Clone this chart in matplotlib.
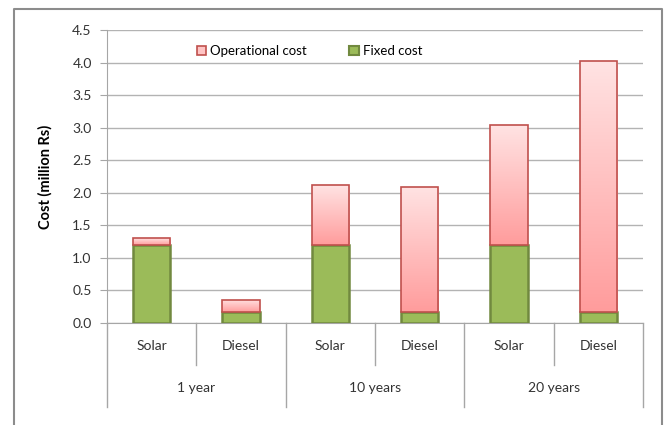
import matplotlib
matplotlib.use("Agg")
import matplotlib.pyplot as plt
import numpy as np
from matplotlib.colors import LinearSegmentedColormap
from matplotlib.patches import Rectangle
from matplotlib.lines import Line2D

plt.rcParams["font.family"] = ["Lato", "DejaVu Sans"]

# cost breakdown per scenario, million Rs
systems = ["Solar", "Diesel", "Solar", "Diesel", "Solar", "Diesel"]
periods = ["1 year", "10 years", "20 years"]
fixed_cost = [1.20, 0.17, 1.20, 0.17, 1.20, 0.17]
operational_cost = [0.10, 0.19, 0.92, 1.92, 1.84, 3.85]
y_ticks = [0.0, 0.5, 1.0, 1.5, 2.0, 2.5, 3.0, 3.5, 4.0, 4.5]

GREEN = "#9BBB59"
GREEN_EDGE = "#71893F"
RED_EDGE = "#C0504D"
GRID = "#B3B3B3"
AXIS = "#A6A6A6"

fig = plt.figure(figsize=(6.67, 4.25), dpi=100)
ax = fig.add_axes([107 / 667, 102 / 425, 536 / 667, 293 / 425])

x = np.arange(len(systems))
width = 0.42

fixed_bars = ax.bar(x, fixed_cost, width, color=GREEN, edgecolor=GREEN_EDGE,
                    linewidth=1.8, zorder=3)
op_bars = ax.bar(x, operational_cost, width, bottom=fixed_cost,
                 facecolor="none", edgecolor=RED_EDGE, linewidth=1.2, zorder=4)

# pink vertical gradient inside each operational segment
grad_cmap = LinearSegmentedColormap.from_list("pink", ["#FF9C9C", "#FFE3E3"])
gradient = np.linspace(0, 1, 256).reshape(-1, 1)
for bar in op_bars:
    bx, by = bar.get_x(), bar.get_y()
    bw, bh = bar.get_width(), bar.get_height()
    im = ax.imshow(gradient, cmap=grad_cmap, origin="lower", aspect="auto",
                   extent=[bx, bx + bw, by, by + bh], zorder=3.5)
    im.set_clip_path(Rectangle((bx, by), bw, bh, transform=ax.transData))

ax.set_xlim(-0.5, len(systems) - 0.5)
ax.set_ylim(0, 4.5)
ax.set_yticks(y_ticks)
ax.set_yticklabels([f"{v:.1f}" for v in y_ticks], fontsize=10, color="#333333")
ax.yaxis.grid(True, color=GRID, linewidth=1.0, zorder=0)
ax.tick_params(axis="y", length=5, color=AXIS, pad=6)
ax.set_xticks([])

for side in ["top", "right"]:
    ax.spines[side].set_visible(False)
ax.spines["left"].set_color(AXIS)
ax.spines["bottom"].set_color(AXIS)

ax.set_ylabel("Cost (million Rs)", fontsize=10.5, fontweight="bold",
              labelpad=14)

# two-level category axis below the plot
trans = ax.get_xaxis_transform()
px = 1 / 293  # one pixel in axes fraction (vertical)
for i, name in enumerate(systems):
    ax.text(i, -23 * px, name, transform=trans, ha="center", va="center",
            fontsize=10, color="#333333")
for j, period in enumerate(periods):
    ax.text(2 * j + 0.5, -65 * px, period, transform=trans, ha="center",
            va="center", fontsize=10, color="#333333")
for k in range(len(systems) + 1):
    edge = k - 0.5
    depth = 84 if k % 2 == 0 else 42
    ax.add_line(Line2D([edge, edge], [0, -depth * px], transform=trans,
                       color=AXIS, linewidth=1.0, clip_on=False))

handles = [
    Rectangle((0, 0), 1, 1, facecolor="#FFC4C4", edgecolor=RED_EDGE, linewidth=1.2),
    Rectangle((0, 0), 1, 1, facecolor=GREEN, edgecolor=GREEN_EDGE, linewidth=1.5),
]
ax.legend(handles, ["Operational cost", "Fixed cost"], ncol=2, frameon=False,
          loc="center", bbox_to_anchor=(0.378, 0.928), fontsize=9.5,
          handlelength=0.7, handleheight=0.7, handletextpad=0.3,
          columnspacing=3.2)

# outer chart border
fig.add_artist(Line2D([14 / 667, 14 / 667, 662 / 667, 662 / 667],
                      [0, 416 / 425, 416 / 425, 0], color="#8C8C8C",
                      linewidth=1.5))

fig.savefig("out.png", dpi=100)
